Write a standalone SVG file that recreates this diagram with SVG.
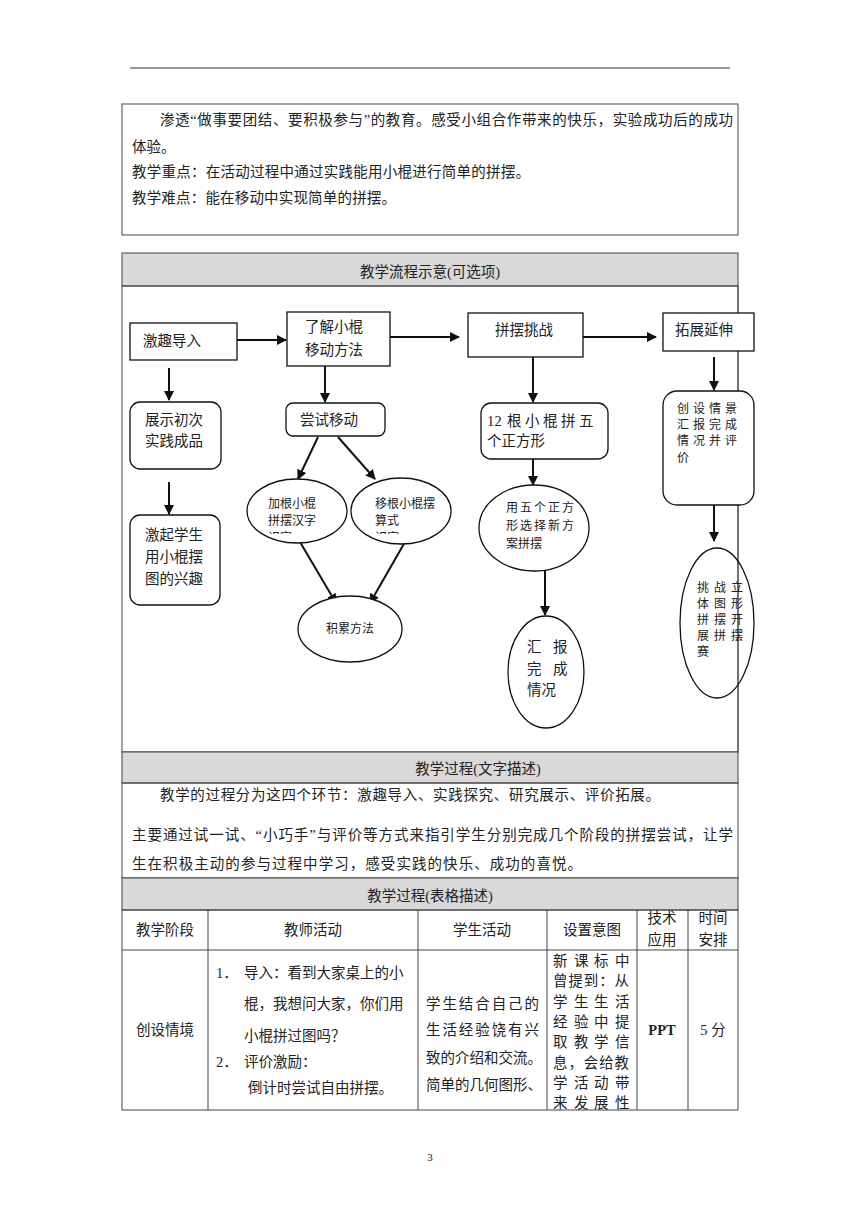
<svg xmlns="http://www.w3.org/2000/svg" width="860" height="1216" viewBox="0 0 860 1216">
<style>
.t{font-family:"Liberation Serif","Noto Sans CJK SC",serif;fill:#222;font-size:14.5px}
.s{font-size:12px}
.b{fill:none;stroke:#444;stroke-width:1}
.g{fill:#d9d9d9;stroke:#444;stroke-width:1}
.n{fill:#fff;stroke:#111;stroke-width:1.3}
.c{stroke:#111;stroke-width:2;fill:none;marker-end:url(#ah)}
</style>
<defs>
<marker id="ah" viewBox="0 0 10 10" refX="9" refY="5" markerWidth="5" markerHeight="5" orient="auto"><path d="M0,0 L10,5 L0,10 z" fill="#111"/></marker>
<clipPath id="cl1"><rect x="250" y="528" width="100" height="6"/></clipPath>
<clipPath id="cl2"><rect x="355" y="528" width="100" height="6"/></clipPath>
</defs>
<rect width="860" height="1216" fill="#fff"/>
<line x1="130" y1="68" x2="730" y2="68" stroke="#333" stroke-width="1"/>

<g id="objectives">
<rect class="b" x="122" y="104" width="616" height="131"/>
<text class="t" x="160" y="125" textLength="573">渗透“做事要团结、要积极参与”的教育。感受小组合作带来的快乐，实验成功后的成功</text>
<text class="t" x="132" y="152">体验。</text>
<text class="t" x="132" y="177" textLength="398">教学重点：在活动过程中通过实践能用小棍进行简单的拼摆。</text>
<text class="t" x="132" y="203" textLength="264">教学难点：能在移动中实现简单的拼摆。</text>
</g>

<g id="flow-frame">
<rect class="g" x="122" y="253" width="616" height="33"/>
<text class="t" x="430" y="277" text-anchor="middle">教学流程示意(可选项)</text>
<rect class="b" x="122" y="286" width="616" height="466"/>
</g>

<g id="connectors">
<line class="c" x1="237" y1="340" x2="286" y2="340"/>
<line class="c" x1="390" y1="337" x2="459" y2="337"/>
<line class="c" x1="583" y1="337" x2="656" y2="337"/>
<line class="c" x1="169" y1="368" x2="169" y2="400"/>
<line class="c" x1="169" y1="482" x2="169" y2="514"/>
<line class="c" x1="325" y1="366" x2="325" y2="402"/>
<line class="c" x1="318" y1="437" x2="298" y2="479"/>
<line class="c" x1="338" y1="437" x2="375" y2="479"/>
<line class="c" x1="300" y1="542" x2="336" y2="603"/>
<line class="c" x1="405" y1="542" x2="370" y2="603"/>
<line class="c" x1="533" y1="357" x2="533" y2="402"/>
<line class="c" x1="533" y1="459" x2="533" y2="485"/>
<line class="c" x1="545" y1="570" x2="545" y2="615"/>
<line class="c" x1="714" y1="357" x2="714" y2="390"/>
<line class="c" x1="714" y1="505" x2="714" y2="541"/>
</g>

<line x1="738" y1="286" x2="738" y2="752" stroke="#444" stroke-width="1"/>

<g id="n1"><rect class="n" x="130" y="323" width="107" height="37"/><text class="t" x="143" y="346">激趣导入</text></g>
<g id="n2"><rect class="n" x="287" y="312" width="103" height="54"/><text class="t" x="305" y="332">了解小棍</text><text class="t" x="305" y="355">移动方法</text></g>
<g id="n3"><rect class="n" x="468" y="313" width="115" height="44"/><text class="t" x="495" y="335">拼摆挑战</text></g>
<g id="n4"><rect class="n" x="663" y="313" width="91" height="38"/><text class="t" x="675" y="335">拓展延伸</text></g>

<g id="n5"><rect class="n" x="130" y="402" width="91" height="67" rx="10"/><text class="t" x="145" y="425">展示初次</text><text class="t" x="145" y="446">实践成品</text></g>
<g id="n6"><rect class="n" x="130" y="515" width="90" height="90" rx="10"/><text class="t" x="145" y="540">激起学生</text><text class="t" x="145" y="562">用小棍摆</text><text class="t" x="145" y="584">图的兴趣</text></g>

<g id="n7"><rect class="n" x="286" y="403" width="99" height="33" rx="7"/><text class="t" x="300" y="425">尝试移动</text></g>
<g id="n8"><ellipse class="n" cx="297" cy="511" rx="50" ry="32"/><text class="t s" x="268" y="508">加根小棍</text><text class="t s" x="268" y="525">拼摆汉字</text><text class="t s" x="268" y="542" clip-path="url(#cl1)">识字</text></g>
<g id="n9"><ellipse class="n" cx="401" cy="511" rx="50" ry="33"/><text class="t s" x="375" y="508">移根小棍摆</text><text class="t s" x="375" y="525">算式</text><text class="t s" x="375" y="542" clip-path="url(#cl2)">识字</text></g>
<g id="n10"><ellipse class="n" cx="350" cy="629" rx="52" ry="33"/><text class="t s" x="350" y="633" text-anchor="middle">积累方法</text></g>

<g id="n11"><rect class="n" x="481" y="403" width="127" height="56" rx="10"/><text class="t" x="487 494.5 507 525 543 561 579" y="426">12根小棍拼五</text><text class="t" x="487" y="446">个正方形</text></g>
<g id="n12"><ellipse class="n" cx="534" cy="528" rx="55" ry="43"/><text class="t s" x="506 520 534 548 562" y="512">用五个正方</text><text class="t s" x="506 520 534 548 562" y="530">形选择新方</text><text class="t s" x="506" y="548">案拼摆</text></g>
<g id="n13"><ellipse class="n" cx="546" cy="672" rx="38" ry="56"/><text class="t" x="527 553" y="652">汇报</text><text class="t" x="527 553" y="674">完成</text><text class="t" x="527" y="695">情况</text></g>

<g id="n14"><rect class="n" x="663" y="391" width="91" height="114" rx="14"/><text class="t s" x="677 693 709 725" y="413">创设情景</text><text class="t s" x="677 693 709 725" y="429">汇报完成</text><text class="t s" x="677 693 709 725" y="445">情况并评</text><text class="t s" x="677" y="462">价</text></g>
<g id="n15"><ellipse cx="717" cy="623" rx="37" ry="75" fill="none" stroke="#111" stroke-width="1.3"/><text class="t s" x="697 714 731" y="592">挑战立</text><text class="t s" x="697 714 731" y="608">体图形</text><text class="t s" x="697 714 731" y="624">拼摆开</text><text class="t s" x="697 714 731" y="640">展拼摆</text><text class="t s" x="697" y="656">赛</text></g>

<g id="text-desc">
<rect class="g" x="122" y="752" width="616" height="31"/>
<text class="t" x="478" y="774" text-anchor="middle">教学过程(文字描述)</text>
<rect class="b" x="122" y="783" width="616" height="95"/>
<text class="t" x="160" y="800" textLength="500">教学的过程分为这四个环节：激趣导入、实践探究、研究展示、评价拓展。</text>
<text class="t" x="132" y="840" textLength="601">主要通过试一试、“小巧手”与评价等方式来指引学生分别完成几个阶段的拼摆尝试，让学</text>
<text class="t" x="132" y="869" textLength="450">生在积极主动的参与过程中学习，感受实践的快乐、成功的喜悦。</text>
</g>

<g id="table">
<rect class="g" x="122" y="878" width="616" height="32"/>
<text class="t" x="430" y="901" text-anchor="middle">教学过程(表格描述)</text>
<rect class="b" x="122" y="910" width="616" height="200"/>
<line class="b" x1="122" y1="950" x2="738" y2="950"/>
<line class="b" x1="208" y1="910" x2="208" y2="1110"/>
<line class="b" x1="418" y1="910" x2="418" y2="1110"/>
<line class="b" x1="547" y1="910" x2="547" y2="1110"/>
<line class="b" x1="637" y1="910" x2="637" y2="1110"/>
<line class="b" x1="688" y1="910" x2="688" y2="1110"/>
<text class="t" x="165" y="935" text-anchor="middle">教学阶段</text>
<text class="t" x="313" y="935" text-anchor="middle">教师活动</text>
<text class="t" x="482" y="935" text-anchor="middle">学生活动</text>
<text class="t" x="592" y="935" text-anchor="middle">设置意图</text>
<text class="t" x="662" y="923" text-anchor="middle">技术</text>
<text class="t" x="662" y="945" text-anchor="middle">应用</text>
<text class="t" x="713" y="923" text-anchor="middle">时间</text>
<text class="t" x="713" y="945" text-anchor="middle">安排</text>
<text class="t" x="165" y="1035" text-anchor="middle">创设情境</text>
<text class="t" x="216" y="978">1．</text><text class="t" x="244" y="978">导入：看到大家桌上的小</text>
<text class="t" x="244" y="1009">棍，我想问大家，你们用</text>
<text class="t" x="244" y="1041">小棍拼过图吗？</text>
<text class="t" x="216" y="1067">2．</text><text class="t" x="244" y="1067">评价激励：</text>
<text class="t" x="248" y="1093">倒计时尝试自由拼摆。</text>
<text class="t" x="426" y="1009" textLength="113">学生结合自己的</text>
<text class="t" x="426" y="1035" textLength="113">生活经验饶有兴</text>
<text class="t" x="426" y="1063">致的介绍和交流。</text>
<text class="t" x="426" y="1090">简单的几何图形、</text>
<text class="t" x="553 574 594 615" y="966">新课标中</text>
<text class="t" x="553" y="986" textLength="76">曾提到：从</text>
<text class="t" x="553 574 594 615" y="1007">学生生活</text>
<text class="t" x="553 574 594 615" y="1027">经验中提</text>
<text class="t" x="553 574 594 615" y="1047">取教学信</text>
<text class="t" x="553" y="1068" textLength="76">息，会给教</text>
<text class="t" x="553 574 594 615" y="1088">学活动带</text>
<text class="t" x="553 574 594 615" y="1108">来发展性</text>
<text class="t" x="662" y="1035" text-anchor="middle" font-weight="bold">PPT</text>
<text class="t" x="713" y="1035" text-anchor="middle">5 分</text>
</g>

<text class="t" x="430" y="1161" text-anchor="middle" style="font-size:11px">3</text>
</svg>
